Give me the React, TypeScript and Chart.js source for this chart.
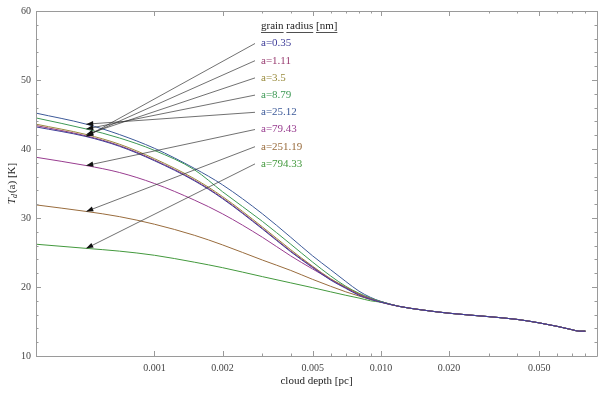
import React, { useEffect, useRef } from "react";
import { Chart, registerables } from "chart.js";

Chart.register(...registerables);

// cloud depth [pc]
const depthPc = [0.0003, 0.0005, 0.0007, 0.001, 0.0015, 0.002, 0.003, 0.004, 0.005, 0.006, 0.007, 0.008, 0.009, 0.01, 0.012, 0.015, 0.02, 0.03, 0.04, 0.05, 0.06, 0.07, 0.075, 0.08];

// dust temperature T_d(a) [K] for each grain radius
const tA035 = [43.2, 41.8, 40.4, 38.3, 35.4, 32.8, 28.4, 25.1, 22.8, 21.0, 19.8, 18.8, 18.2, 17.8, 17.2, 16.7, 16.2, 15.7, 15.3, 14.8, 14.3, 13.8, 13.6, 13.6];
const tA111 = [43.4, 41.9, 40.5, 38.4, 35.5, 32.9, 28.5, 25.2, 22.9, 21.1, 19.9, 18.9, 18.3, 17.8, 17.2, 16.7, 16.2, 15.7, 15.3, 14.8, 14.3, 13.8, 13.6, 13.6];
const tA35 = [43.6, 42.1, 40.7, 38.6, 35.7, 33.1, 28.7, 25.4, 23.0, 21.2, 20.0, 19.0, 18.3, 17.8, 17.2, 16.7, 16.2, 15.7, 15.3, 14.8, 14.3, 13.8, 13.6, 13.6];
const tA879 = [44.5, 42.9, 41.6, 39.8, 37.0, 33.8, 29.5, 26.2, 23.6, 21.6, 20.1, 19.1, 18.4, 17.9, 17.2, 16.7, 16.2, 15.7, 15.3, 14.8, 14.3, 13.8, 13.6, 13.6];
const tA2512 = [45.2, 43.6, 42.1, 40.1, 37.2, 34.8, 30.6, 27.2, 24.5, 22.5, 20.8, 19.4, 18.5, 17.9, 17.2, 16.7, 16.2, 15.7, 15.3, 14.8, 14.3, 13.8, 13.6, 13.6];
const tA7943 = [38.8, 37.6, 36.6, 35.0, 32.6, 30.6, 27.2, 24.5, 22.6, 21.1, 19.9, 19.0, 18.3, 17.9, 17.2, 16.7, 16.2, 15.7, 15.3, 14.8, 14.3, 13.8, 13.6, 13.6];
const tA25119 = [31.9, 30.95, 30.2, 29.1, 27.5, 26.1, 23.9, 22.4, 21.1, 20.1, 19.3, 18.7, 18.2, 17.85, 17.2, 16.7, 16.2, 15.7, 15.3, 14.8, 14.3, 13.8, 13.6, 13.6];
const tA79433 = [26.2, 25.6, 25.2, 24.6, 23.6, 22.8, 21.5, 20.6, 19.9, 19.3, 18.8, 18.4, 18.0, 17.8, 17.2, 16.7, 16.2, 15.7, 15.3, 14.8, 14.3, 13.8, 13.6, 13.6];

const seriesLabels = ["a=0.35", "a=1.11", "a=3.5", "a=8.79", "a=25.12", "a=79.43", "a=251.19", "a=794.33"];
const seriesValues = [tA035, tA111, tA35, tA879, tA2512, tA7943, tA25119, tA79433];
const seriesColors = ["#3e3d99", "#993d71", "#998b3d", "#3d9955", "#3d5a99", "#993d90", "#996c3d", "#43993d"];

const legendTitle = ["grain", "radius", "[nm]"];

const xTickValues = [0.001, 0.002, 0.005, 0.01, 0.02, 0.05];
const xTickLabels = ["0.001", "0.002", "0.005", "0.010", "0.020", "0.050"];
const xMinorTicks = [0.003, 0.004, 0.006, 0.007, 0.008, 0.009, 0.03, 0.04, 0.06, 0.07, 0.08, 0.09];
const yTickValues = [10, 20, 30, 40, 50, 60];
const yMinorTicks = [12, 14, 16, 18, 22, 24, 26, 28, 32, 34, 36, 38, 42, 44, 46, 48, 52, 54, 56, 58];

const ARROW_POINT_INDEX = 1;
const SERIF = '"Liberation Serif", "Times New Roman", serif';

const framePlugin = {
  id: "frameTicks",
  afterDatasetsDraw(chart: any) {
    const { ctx, chartArea: a, scales } = chart;
    const x = scales.x;
    const y = scales.y;
    ctx.save();
    ctx.strokeStyle = "#9a9a9a";
    ctx.lineWidth = 1;
    ctx.beginPath();
    ctx.rect(Math.round(a.left) + 0.5, Math.round(a.top) + 0.5, Math.round(a.right - a.left), Math.round(a.bottom - a.top));
    ctx.stroke();
    const seg = (x1: number, y1: number, x2: number, y2: number) => {
      ctx.beginPath();
      ctx.moveTo(x1, y1);
      ctx.lineTo(x2, y2);
      ctx.stroke();
    };
    const xt = (v: number, len: number) => {
      const p = Math.round(x.getPixelForValue(v)) + 0.5;
      seg(p, a.bottom, p, a.bottom - len);
      seg(p, a.top, p, a.top + len);
    };
    const yt = (v: number, len: number) => {
      const p = Math.round(y.getPixelForValue(v)) + 0.5;
      seg(a.left, p, a.left + len, p);
      seg(a.right, p, a.right - len, p);
    };
    xTickValues.forEach((v) => xt(v, 5));
    xMinorTicks.forEach((v) => xt(v, 2.5));
    yTickValues.forEach((v) => yt(v, 5));
    yMinorTicks.forEach((v) => yt(v, 2.5));
    ctx.restore();
  },
  afterDraw(chart: any) {
    const { ctx, chartArea: a } = chart;
    ctx.save();
    // y-axis title T_d(a) [K]
    const cy = (a.top + a.bottom) / 2;
    ctx.translate(12, cy);
    ctx.rotate(-Math.PI / 2);
    ctx.fillStyle = "#222";
    ctx.textBaseline = "middle";
    ctx.textAlign = "left";
    const fT = `italic 11px ${SERIF}`;
    const fd = `italic 8px ${SERIF}`;
    const fR = `11px ${SERIF}`;
    ctx.font = fT;
    const wT = ctx.measureText("T").width;
    ctx.font = fd;
    const wd = ctx.measureText("d").width;
    ctx.font = fR;
    const wR = ctx.measureText("(a) [K]").width;
    let sx = -(wT + wd + 1 + wR) / 2;
    ctx.font = fT;
    ctx.fillText("T", sx, 0);
    sx += wT;
    ctx.font = fd;
    ctx.fillText("d", sx, 3);
    sx += wd + 1;
    ctx.font = fR;
    ctx.fillText("(a) [K]", sx, 0);
    ctx.restore();

    // legend annotation
    ctx.save();
    const textX = 261;
    const lineStartX = 255;
    const titleY = 26;
    const firstY = 43.5;
    const step = 17.2;
    ctx.font = `11px ${SERIF}`;
    ctx.textBaseline = "middle";
    ctx.textAlign = "left";
    ctx.fillStyle = "#222";
    ctx.strokeStyle = "#222";
    ctx.lineWidth = 0.8;
    let hx = textX;
    const spaceW = ctx.measureText(" ").width;
    legendTitle.forEach((w) => {
      const ww = ctx.measureText(w).width;
      ctx.fillText(w, hx, titleY);
      ctx.beginPath();
      ctx.moveTo(hx, titleY + 6.5);
      ctx.lineTo(hx + ww, titleY + 6.5);
      ctx.stroke();
      hx += ww + spaceW;
    });
    seriesLabels.forEach((lab, i) => {
      const ly = firstY + i * step;
      ctx.fillStyle = seriesColors[i];
      ctx.fillText(lab, textX, ly);
      const meta = chart.getDatasetMeta(i);
      const pt = meta.data[ARROW_POINT_INDEX];
      if (!pt) return;
      const tx = pt.x;
      const ty = pt.y;
      ctx.strokeStyle = "#333";
      ctx.fillStyle = "#111";
      ctx.lineWidth = 0.7;
      ctx.beginPath();
      ctx.moveTo(lineStartX, ly);
      ctx.lineTo(tx, ty);
      ctx.stroke();
      const ang = Math.atan2(ty - ly, tx - lineStartX);
      const L = 7;
      const W = 2.6;
      const bx = tx - L * Math.cos(ang);
      const by = ty - L * Math.sin(ang);
      ctx.beginPath();
      ctx.moveTo(tx, ty);
      ctx.lineTo(bx + W * Math.sin(ang), by - W * Math.cos(ang));
      ctx.lineTo(bx - W * Math.sin(ang), by + W * Math.cos(ang));
      ctx.closePath();
      ctx.fill();
    });
    ctx.restore();
  },
};

export default function App() {
  const ref = useRef<HTMLCanvasElement | null>(null);
  useEffect(() => {
    document.body.style.margin = "0";
    const canvas = ref.current;
    if (!canvas) return;
    const datasets = seriesValues.map((vals, i) => ({
      label: seriesLabels[i],
      data: depthPc.map((d, j) => ({ x: d, y: vals[j] })),
      borderColor: seriesColors[i],
      backgroundColor: seriesColors[i],
      borderWidth: 1,
      pointRadius: 0,
      fill: false,
      cubicInterpolationMode: "monotone" as const,
    }));
    const chart = new Chart(canvas, {
      type: "line",
      data: { datasets },
      options: {
        responsive: false,
        animation: false,
        devicePixelRatio: 1,
        layout: { padding: { top: 7, right: 3, left: 0, bottom: 0 } },
        plugins: { legend: { display: false }, tooltip: { enabled: false } },
        scales: {
          x: {
            type: "logarithmic",
            min: 0.0003,
            max: 0.09,
            grid: { display: false, drawTicks: false },
            border: { display: false },
            afterBuildTicks: (s: any) => {
              s.ticks = xTickValues.map((v) => ({ value: v }));
            },
            afterFit: (s: any) => {
              s.height = 37;
            },
            ticks: {
              autoSkip: false,
              maxRotation: 0,
              padding: 6,
              color: "#444",
              font: { family: SERIF, size: 10 },
              callback: (v: any) => {
                const idx = xTickValues.findIndex((t) => Math.abs(t - Number(v)) < t * 1e-6);
                return idx >= 0 ? xTickLabels[idx] : "";
              },
            },
            title: {
              display: true,
              text: "cloud depth [pc]",
              color: "#222",
              font: { family: SERIF, size: 11 },
              padding: { top: 0, bottom: 5 },
            },
          },
          y: {
            type: "linear",
            min: 10,
            max: 60,
            grid: { display: false, drawTicks: false },
            border: { display: false },
            afterBuildTicks: (s: any) => {
              s.ticks = yTickValues.map((v) => ({ value: v }));
            },
            afterFit: (s: any) => {
              s.width = 36;
            },
            ticks: {
              padding: 5,
              color: "#444",
              font: { family: SERIF, size: 10 },
            },
          },
        },
      },
      plugins: [framePlugin],
    });
    return () => chart.destroy();
  }, []);
  return (
    <div style={{ width: 600, height: 393 }}>
      <canvas ref={ref} width={600} height={393} />
    </div>
  );
}
